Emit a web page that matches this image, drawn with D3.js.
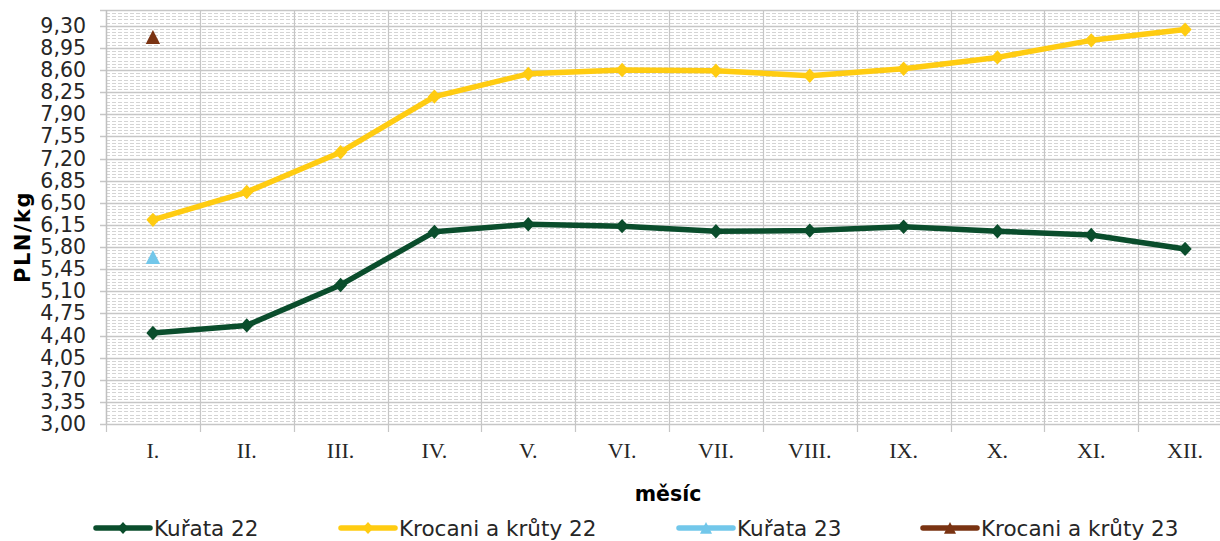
<!DOCTYPE html>
<html>
<head>
<meta charset="utf-8">
<script src="https://cdn.jsdelivr.net/npm/d3@7"></script>
<style>
  html, body { margin: 0; padding: 0; background: #fff; }
  svg { display: block; }
</style>
</head>
<body>
<div id="chart"></div>
<script>
// data
const months = ["I.", "II.", "III.", "IV.", "V.", "VI.", "VII.", "VIII.", "IX.", "X.", "XI.", "XII."];
const kurata22 = [4.44, 4.56, 5.20, 6.04, 6.16, 6.13, 6.05, 6.06, 6.12, 6.05, 5.99, 5.77];
const krocani22 = [6.23, 6.67, 7.30, 8.18, 8.54, 8.60, 8.59, 8.51, 8.62, 8.80, 9.07, 9.24];
const kurata23 = [5.64];
const krocani23 = [9.12];
const yTicks = [3.00, 3.35, 3.70, 4.05, 4.40, 4.75, 5.10, 5.45, 5.80, 6.15, 6.50, 6.85, 7.20, 7.55, 7.90, 8.25, 8.60, 8.95, 9.30];

const series = [
    { name: "Kuřata 22", values: kurata22, color: "#0a4d2c", marker: "diamond" },
    { name: "Krocani a krůty 22", values: krocani22, color: "#ffcc11", marker: "diamond" },
    { name: "Kuřata 23", values: kurata23, color: "#72c7ea", marker: "triangle" },
    { name: "Krocani a krůty 23", values: krocani23, color: "#7a3312", marker: "triangle" },
];

const width = 1220, height = 541;
const plot = { left: 106, top: 10, right: 1232, bottom: 424 };

const svg = d3.select("#chart").append("svg")
    .attr("width", width)
    .attr("height", height);

const x = d3.scaleBand().domain(months).range([plot.left, plot.right]);
const y = d3.scaleLinear().domain([3, 9.55]).range([plot.bottom, plot.top]);
const xc = m => x(m) + x.bandwidth() / 2;

const grid = svg.append("g");

// minor horizontal gridlines, every 0.05
const minor = d3.range(0, 132).map(i => +(3 + i * 0.05).toFixed(2))
    .filter(v => Math.round((v - 3) * 100) % 35 !== 0);
grid.selectAll("line.minor")
    .data(minor)
    .join("line")
    .attr("class", "minor")
    .attr("x1", plot.left).attr("x2", plot.right)
    .attr("y1", d => Math.round(y(d)) + 0.5).attr("y2", d => Math.round(y(d)) + 0.5)
    .attr("stroke", "#d4d4d4")
    .attr("stroke-width", 1)
    .attr("stroke-dasharray", "4,2");

// vertical gridlines at category boundaries
const bounds = months.map(m => x(m)).concat([plot.right]);
grid.selectAll("line.vgrid")
    .data(bounds)
    .join("line")
    .attr("class", "vgrid")
    .attr("x1", d => Math.round(d) + 0.5).attr("x2", d => Math.round(d) + 0.5)
    .attr("y1", plot.top).attr("y2", plot.bottom + 8)
    .attr("stroke", "#c6c6c6")
    .attr("stroke-width", 1.2);

// major horizontal gridlines
grid.selectAll("line.major")
    .data(yTicks.concat([9.55]))
    .join("line")
    .attr("class", "major")
    .attr("x1", plot.left - 6).attr("x2", plot.right)
    .attr("y1", d => Math.round(y(d)) + 0.5).attr("y2", d => Math.round(y(d)) + 0.5)
    .attr("stroke", "#c6c6c6")
    .attr("stroke-width", 1.6);

// left axis line
grid.append("line")
    .attr("x1", plot.left + 0.5).attr("x2", plot.left + 0.5)
    .attr("y1", plot.top).attr("y2", plot.bottom)
    .attr("stroke", "#c0c0c0").attr("stroke-width", 1.4);

// y axis labels
const yAxis = d3.axisLeft(y).tickValues(yTicks).tickSize(0).tickPadding(20)
    .tickFormat(d => d3.format(".2f")(d).replace(".", ","));
svg.append("g")
    .attr("transform", `translate(${plot.left},0)`)
    .call(yAxis)
    .call(g => g.select(".domain").remove())
    .call(g => g.selectAll("text")
        .attr("font-family", "DejaVu Sans, sans-serif")
        .attr("font-size", 20.5)
        .attr("fill", "#262626"));

// x axis labels
const xAxis = d3.axisBottom(x).tickSize(0).tickPadding(18);
svg.append("g")
    .attr("transform", `translate(0,${plot.bottom})`)
    .call(xAxis)
    .call(g => g.select(".domain").remove())
    .call(g => g.selectAll("text")
        .attr("font-family", "Liberation Serif, serif")
        .attr("font-size", 22)
        .attr("fill", "#262626"));

// axis titles
svg.append("text")
    .attr("transform", `translate(30,237) rotate(-90)`)
    .attr("text-anchor", "middle")
    .attr("font-family", "DejaVu Sans, sans-serif")
    .attr("font-weight", "bold")
    .attr("font-size", 21)
    .attr("letter-spacing", 1.5)
    .attr("fill", "#000")
    .text("PLN/kg");

svg.append("text")
    .attr("x", 668).attr("y", 501)
    .attr("text-anchor", "middle")
    .attr("font-family", "DejaVu Sans, sans-serif")
    .attr("font-weight", "bold")
    .attr("font-size", 20.5)
    .attr("fill", "#000")
    .text("měsíc");

// markers (Excel-like fat diamond and triangle)
const markerPath = (type, s) => type === "diamond"
    ? `M0,${-s}L${s * 0.92},0L0,${s}L${-s * 0.92},0Z`
    : `M0,${-s}L${s},${s * 0.95}L${-s},${s * 0.95}Z`;

const line = d3.line()
    .x((d, i) => xc(months[i]))
    .y(d => y(d));

const marks = svg.append("g");
series.forEach(s => {
    if (s.values.length > 1) {
        marks.append("path")
            .datum(s.values)
            .attr("d", line)
            .attr("fill", "none")
            .attr("stroke", s.color)
            .attr("stroke-width", 5.5)
            .attr("stroke-linejoin", "round");
    }
    marks.selectAll(null)
        .data(s.values)
        .join("path")
        .attr("transform", (d, i) => `translate(${xc(months[i])},${y(d)})`)
        .attr("d", markerPath(s.marker, 7.2))
        .attr("fill", s.color);
});

// legend
const legendX = [96, 341, 679, 923];
const legend = svg.append("g")
    .attr("font-family", "DejaVu Sans, sans-serif")
    .attr("font-size", 21.5)
    .attr("fill", "#262626");
series.forEach((s, i) => {
    const lx = legendX[i], ly = 528;
    legend.append("line")
        .attr("x1", lx).attr("x2", lx + 54)
        .attr("y1", ly).attr("y2", ly)
        .attr("stroke", s.color).attr("stroke-width", 5.5)
        .attr("stroke-linecap", "round");
    legend.append("path")
        .attr("transform", `translate(${lx + 27},${ly})`)
        .attr("d", markerPath(s.marker, 6))
        .attr("fill", s.color);
    legend.append("text")
        .attr("x", lx + 58).attr("y", ly + 8)
        .text(s.name);
});
</script>
</body>
</html>
